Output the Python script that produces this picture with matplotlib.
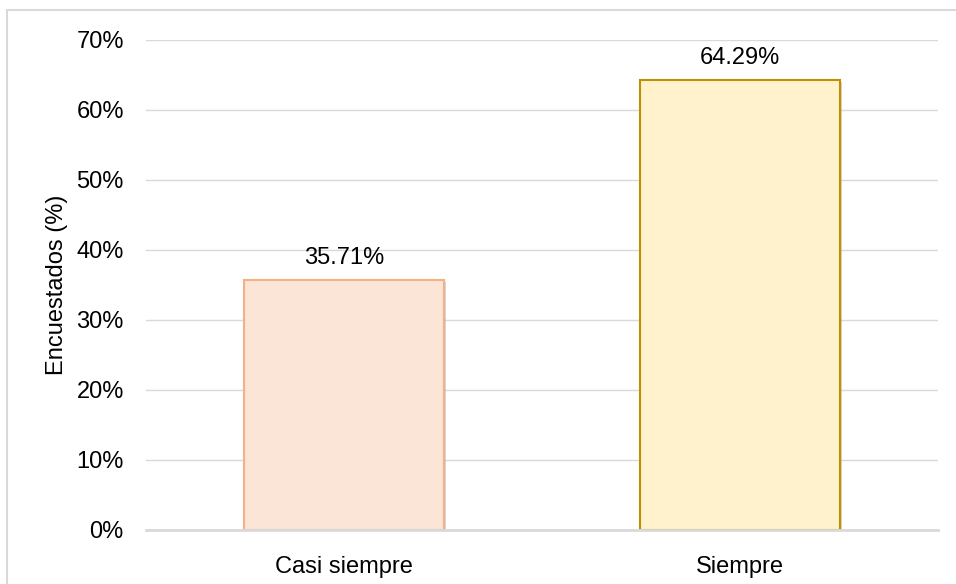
import matplotlib.pyplot as plt
from matplotlib.patches import Rectangle
from matplotlib.ticker import PercentFormatter
import matplotlib.patheffects as pe

plt.rcParams['font.family'] = ['Liberation Sans', 'DejaVu Sans']

categories = ['Casi siempre', 'Siempre']
values = [35.71, 64.29]
fill_colors = ['#fbe5d6', '#fff2cc']
edge_colors = ['#f4b183', '#bf9000']

fig = plt.figure(figsize=(9.56, 5.84), dpi=100)
ax = fig.add_axes([146 / 956, 1 - 530 / 584, 792 / 956, 490 / 584])

# outer chart border
fig.patches.append(Rectangle((7 / 956, -0.05), 1.0, 1 - 10 / 584 + 0.05,
                             transform=fig.transFigure, fill=False,
                             edgecolor='#d9d9d9', linewidth=1.5))

x = range(len(categories))
bars = ax.bar(x, values, width=0.505, color=fill_colors, edgecolor=edge_colors,
              linewidth=1.5, zorder=3)
for b in bars:
    b.set_path_effects([pe.SimplePatchShadow(offset=(1.5, -1.5), shadow_rgbFace='#999999', alpha=0.4),
                        pe.Normal()])

for xi, v in zip(x, values):
    ax.text(xi, v + 1.6, f'{v:.2f}%', ha='center', va='bottom', fontsize=17, color='#000000')

ax.set_xlim(-0.5, 1.5)
ax.set_ylim(0, 70)
ax.set_yticks(range(0, 71, 10))
ax.yaxis.set_major_formatter(PercentFormatter(decimals=0))
ax.set_xticks(list(x))
ax.set_xticklabels(categories)
ax.tick_params(axis='both', length=0, labelsize=17, colors='#000000')
ax.tick_params(axis='y', pad=16)
ax.tick_params(axis='x', pad=19)
ax.grid(axis='y', color='#d9d9d9', linewidth=1, zorder=0)
for s in ['top', 'right', 'left']:
    ax.spines[s].set_visible(False)
ax.spines['bottom'].set_color('#d9d9d9')
ax.spines['bottom'].set_linewidth(2)
ax.spines['bottom'].set_zorder(4)
ax.set_ylabel('Encuestados (%)', fontsize=17, labelpad=6)

fig.savefig('out.png', dpi=100)
